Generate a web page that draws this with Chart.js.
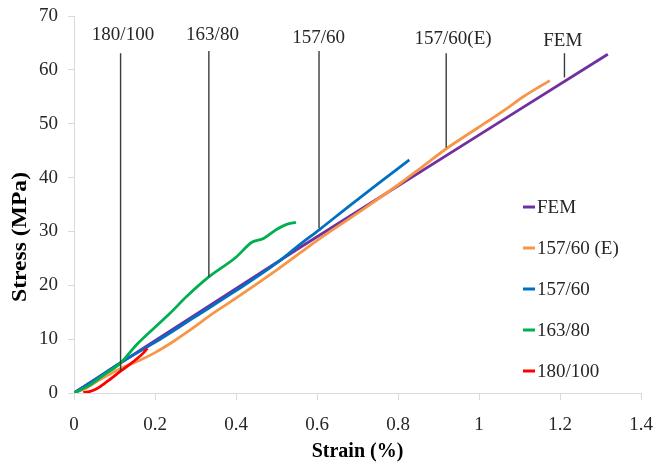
<!DOCTYPE html>
<html>
<head>
<meta charset="utf-8">
<script src="https://cdn.jsdelivr.net/npm/chart.js@4"></script>
<style>
  html, body { margin: 0; padding: 0; background: #ffffff; }
  #wrap { width: 655px; height: 466px; }
</style>
</head>
<body>
<div id="wrap"><canvas id="c" width="655" height="466"></canvas></div>
<script>
// ---------- DATA ----------
const seriesNames = ["FEM", "157/60 (E)", "157/60", "163/80", "180/100"];

const femStrain = [0, 0.56, 1.318];
const femStress = [0, 27.1, 62.9];

const e157Strain = [0, 0.03, 0.06, 0.114, 0.16, 0.2, 0.25, 0.3, 0.336, 0.4, 0.5, 0.558, 0.6, 0.7, 0.805, 0.86, 0.92, 0.97, 1.027, 1.07, 1.109, 1.15, 1.175];
const e157Stress = [0, 0.9, 2.3, 4.5, 6.0, 7.5, 9.8, 12.4, 14.4, 17.6, 22.8, 26.0, 28.3, 33.4, 38.9, 42.0, 45.4, 47.9, 50.7, 52.9, 55.0, 56.9, 58.0];

const s157Strain = [0, 0.05, 0.114, 0.2, 0.3, 0.4, 0.5, 0.558, 0.607, 0.681, 0.764, 0.828];
const s157Stress = [0, 2.4, 5.6, 9.4, 14.2, 19.0, 24.1, 27.6, 30.4, 34.8, 39.6, 43.3];

const s163Strain = [0, 0.04, 0.073, 0.114, 0.155, 0.2, 0.237, 0.278, 0.332, 0.4, 0.439, 0.468, 0.501, 0.525, 0.548];
const s163Stress = [0, 1.5, 3.3, 5.5, 9.0, 12.2, 14.8, 17.9, 21.5, 25.2, 28.0, 28.7, 30.4, 31.3, 31.7];

const s180Strain = [0.023, 0.04, 0.056, 0.081, 0.114, 0.146, 0.171, 0.181];
const s180Stress = [0.1, 0.3, 0.8, 2.1, 4.0, 5.8, 7.4, 8.3];

// callout annotations (label, line strain, line top stress, line bottom stress, label strain, label stress)
const annoLabels = ["180/100", "163/80", "157/60", "157/60(E)", "FEM"];
const annoStrain = [0.115, 0.333, 0.605, 0.919, 1.211];
const annoTop = [63.1, 63.5, 63.5, 63.1, 63.1];
const annoBottom = [4.1, 21.6, 30.6, 45.6, 58.6];
const annoLabelStrain = [0.121, 0.342, 0.604, 0.936, 1.207];
const annoLabelStress = [66.5, 66.5, 66.0, 65.7, 65.3];

const xTicks = [0, 0.2, 0.4, 0.6, 0.8, 1, 1.2, 1.4];
const yTicks = [0, 10, 20, 30, 40, 50, 60, 70];
const xTitle = "Strain (%)";
const yTitle = "Stress (MPa)";

// ---------- STYLE ----------
const colors = ["#7030A0", "#F79646", "#0070C0", "#00B050", "#FF0000"];
const serif = "'Liberation Serif', 'Times New Roman', serif";
const textColor = "#262626";

function pts(xs, ys) { return xs.map((x, i) => ({ x: x, y: ys[i] })); }

const seriesData = [
  pts(femStrain, femStress),
  pts(e157Strain, e157Stress),
  pts(s157Strain, s157Stress),
  pts(s163Strain, s163Stress),
  pts(s180Strain, s180Stress)
];

const datasets = seriesData.map((d, i) => ({
  label: seriesNames[i],
  data: d,
  borderColor: colors[i],
  backgroundColor: colors[i],
  borderWidth: 2.8,
  pointRadius: 0,
  tension: 0.2,
  cubicInterpolationMode: "monotone",
  fill: false,
  order: 10 - i
}));

annoLabels.forEach((lab, i) => {
  datasets.push({
    label: "_anno_" + lab,
    data: [{ x: annoStrain[i], y: annoBottom[i] }, { x: annoStrain[i], y: annoTop[i] }],
    borderColor: "#3a3a3a",
    borderWidth: 1.4,
    pointRadius: 0,
    tension: 0,
    fill: false,
    order: 0
  });
});

const overlayPlugin = {
  id: "overlay",
  afterDraw(chart) {
    const ctx = chart.ctx;
    const xs = chart.scales.x, ys = chart.scales.y;
    const ca = chart.chartArea;
    ctx.save();
    // callout labels
    ctx.font = "19px " + serif;
    ctx.fillStyle = textColor;
    ctx.textAlign = "center";
    ctx.textBaseline = "middle";
    annoLabels.forEach((lab, i) => {
      ctx.fillText(lab, xs.getPixelForValue(annoLabelStrain[i]), ys.getPixelForValue(annoLabelStress[i]));
    });
    // legend
    const lx = ca.right - 118;
    const ly0 = ca.top + 191;
    const gap = 41;
    ctx.textAlign = "left";
    seriesNames.forEach((name, i) => {
      const yy = ly0 + i * gap;
      ctx.strokeStyle = colors[i];
      ctx.lineWidth = 3;
      ctx.beginPath();
      ctx.moveTo(lx, yy);
      ctx.lineTo(lx + 12, yy);
      ctx.stroke();
      ctx.fillStyle = textColor;
      ctx.fillText(name, lx + 14, yy + 1);
    });
    // y-axis title
    ctx.font = "bold 20px " + serif;
    ctx.fillStyle = "#000";
    ctx.translate(21, ca.top + 221);
    ctx.rotate(-Math.PI / 2);
    ctx.scale(1.18, 1);
    ctx.textAlign = "center";
    ctx.textBaseline = "middle";
    ctx.fillText(yTitle, 0, 0);
    ctx.restore();
  }
};

new Chart(document.getElementById("c"), {
  type: "line",
  data: { datasets: datasets },
  options: {
    responsive: false,
    animation: false,
    devicePixelRatio: 1,
    layout: { padding: { top: 16, right: 14, left: 0, bottom: 0 } },
    plugins: {
      legend: { display: false },
      tooltip: { enabled: false },
      title: { display: false }
    },
    scales: {
      x: {
        type: "linear",
        min: 0, max: 1.4,
        afterBuildTicks(s) { s.ticks = xTicks.map(v => ({ value: v })); },
        afterFit(s) { s.height = 73; s.paddingLeft = 0; s.paddingRight = 0; },
        ticks: {
          font: { family: serif, size: 19 },
          color: textColor,
          padding: 14,
          maxRotation: 0,
          callback: v => String(v)
        },
        grid: { drawOnChartArea: false, drawTicks: true, tickLength: 7, color: "#d9d9d9" },
        border: { display: true, color: "#d9d9d9", width: 1 },
        title: {
          display: true,
          text: xTitle,
          font: { family: serif, size: 20, weight: "bold" },
          color: "#000",
          padding: { top: 4, bottom: 2 }
        }
      },
      y: {
        type: "linear",
        min: 0, max: 70,
        afterBuildTicks(s) { s.ticks = yTicks.map(v => ({ value: v })); },
        afterFit(s) { s.width = 74; s.paddingTop = 0; s.paddingBottom = 0; },
        ticks: {
          font: { family: serif, size: 19 },
          color: textColor,
          padding: 10,
          callback: v => String(v)
        },
        grid: { drawOnChartArea: false, drawTicks: true, tickLength: 6, color: "#d9d9d9" },
        border: { display: true, color: "#d9d9d9", width: 1 }
      }
    }
  },
  plugins: [overlayPlugin]
});
</script>
</body>
</html>
